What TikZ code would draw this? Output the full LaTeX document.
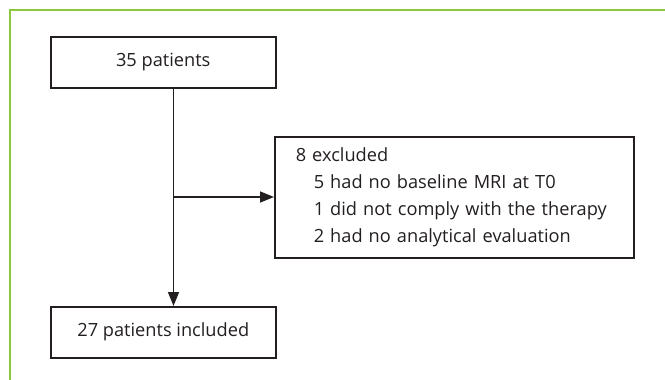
\documentclass[tikz,border=0pt]{standalone}
\usepackage{fontspec}
\setmainfont{Open Sans}
\usetikzlibrary{arrows.meta}
\definecolor{framegreen}{RGB}{141,198,63}
\definecolor{ink}{RGB}{35,31,32}
\tikzset{
  box/.style={draw=ink, line width=1.5pt, rectangle, inner sep=0pt, font=\fontsize{18.2}{26.7}\selectfont, text=ink},
  flow/.style={draw=ink, line width=1.5pt, -{Triangle[length=14pt,width=11pt]}},
}
\begin{document}
\begin{tikzpicture}[x=1pt,y=-1pt]
\useasboundingbox (0,0) rectangle (665,380);
\fill[white] (0,0) rectangle (665,380);
\draw[framegreen, line width=2pt] (9.5,380) -- (9.5,9.5) -- (665,9.5);
\node[box, anchor=north west, minimum width=225pt, minimum height=51pt] (start) at (50,36) {35 patients};
\node[box, anchor=north west, minimum width=225pt, minimum height=51pt] (incl) at (50,306) {27 patients included};
\node[box, anchor=north west, minimum width=359pt, minimum height=121pt, align=left, text width=317pt, inner xsep=21pt] (excl) at (274,136)
 {8 excluded\\
  \hspace*{18pt}5 had no baseline MRI at T0\\
  \hspace*{18pt}1 did not comply with the therapy\\
  \hspace*{18pt}2 had no analytical evaluation};
\coordinate (top) at (173.5,87);
\coordinate (bot) at (173.5,306);
\coordinate (branch) at (173.5,197);
\draw[flow] (start.south -| top) -- (incl.north -| bot);
\draw[flow] (branch) -- (excl.west |- branch);
\end{tikzpicture}
\end{document}
